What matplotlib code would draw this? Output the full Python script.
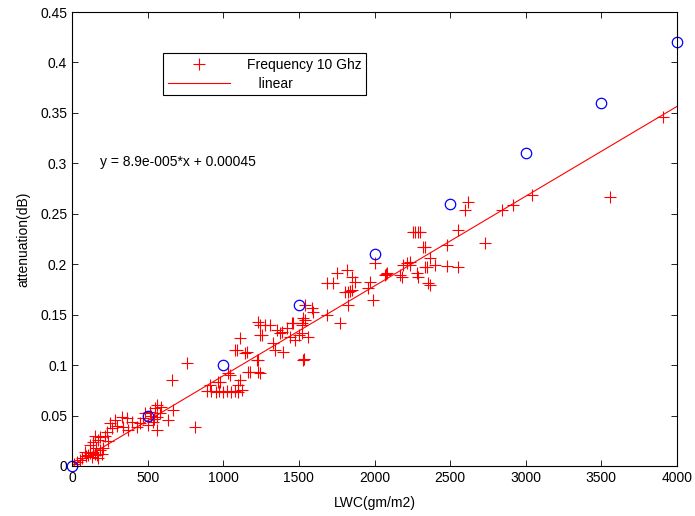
import numpy as np
import matplotlib
matplotlib.use("Agg")
import matplotlib.pyplot as plt
from matplotlib.ticker import FormatStrFormatter

plt.rcParams['font.family'] = ['Liberation Sans', 'DejaVu Sans']

# measured points, frequency 10 GHz
lwc = [0, 15, 30, 50, 66, 86, 106, 119, 132, 139, 139, 150, 165, 172, 185, 185, 205, 160, 120, 175,
       200, 95, 150, 230, 251, 264, 284, 331, 337, 364, 370, 397, 430, 450, 483, 502, 516, 536, 549, 562,
       562, 562, 582, 635, 668, 661, 760, 813, 470, 520, 540, 590, 300, 240, 220,
       893, 920, 950, 975, 1000, 1025, 1050, 1075, 1100, 1124, 912, 965, 979, 1031, 1045, 1097, 1111, 1164,
       1177, 1230, 1243, 1223, 1230, 1144, 1078, 1157, 1091, 1111, 1243, 1256, 1243, 1230, 1276, 1309,
       1329, 1342, 1355, 1375, 1388, 1395, 1421, 1455, 1461, 1474, 1521, 1527, 1535, 1521, 1540, 1521,
       1527, 1540, 1587, 1593, 1560, 1500, 1440,
       1686, 1772, 1686, 1726, 1752, 1805, 1818, 1825, 1825, 1840, 1851, 1851, 1871, 1957, 1970, 1990,
       2003, 2069, 2083, 2075, 2169, 2182, 2188, 2215, 2235, 2235, 2255, 2268, 2288, 2301, 2281, 2288,
       2321, 2334, 2334, 2347, 2354, 2367, 2367, 2400, 2479, 2479, 2552, 2552, 2598, 2618, 2731, 2843,
       2916, 3041, 3557, 3907]
atten = [0.0, 0.002, 0.004, 0.006, 0.008, 0.014, 0.011, 0.021, 0.009, 0.024, 0.014, 0.012, 0.011, 0.026,
         0.016, 0.029, 0.018, 0.018, 0.013, 0.008, 0.012, 0.010, 0.030, 0.034, 0.043, 0.038, 0.046, 0.049,
         0.039, 0.048, 0.036, 0.044, 0.039, 0.043, 0.053, 0.041, 0.054, 0.044, 0.057, 0.049, 0.036, 0.060,
         0.053, 0.046, 0.056, 0.085, 0.102, 0.039, 0.048, 0.050, 0.047, 0.058, 0.040, 0.025, 0.030,
         0.074, 0.074, 0.073, 0.074, 0.073, 0.074, 0.073, 0.074, 0.073, 0.075, 0.080, 0.083, 0.083, 0.092,
         0.090, 0.080, 0.085, 0.093, 0.093, 0.093, 0.092, 0.105, 0.105, 0.112, 0.115, 0.113, 0.115, 0.127,
         0.130, 0.130, 0.140, 0.143, 0.140, 0.140, 0.122, 0.115, 0.135, 0.132, 0.133, 0.113, 0.137, 0.142,
         0.142, 0.125, 0.132, 0.105, 0.106, 0.140, 0.145, 0.142, 0.147, 0.160, 0.157, 0.153, 0.128, 0.130,
         0.128,
         0.150, 0.142, 0.181, 0.181, 0.191, 0.172, 0.194, 0.172, 0.160, 0.173, 0.174, 0.187, 0.182, 0.176,
         0.182, 0.165, 0.201, 0.189, 0.191, 0.190, 0.189, 0.187, 0.199, 0.201, 0.202, 0.199, 0.232, 0.232,
         0.232, 0.232, 0.191, 0.187, 0.217, 0.217, 0.197, 0.197, 0.181, 0.206, 0.179, 0.199, 0.198, 0.219,
         0.197, 0.234, 0.254, 0.262, 0.221, 0.254, 0.259, 0.269, 0.267, 0.346]

# reference (theory) points
ref_lwc = [0, 500, 1000, 1500, 2000, 2500, 3000, 3500, 4000]
ref_atten = [0.0, 0.05, 0.10, 0.16, 0.21, 0.26, 0.31, 0.36, 0.42]

# linear fit shown on the chart
slope = 8.9e-5
intercept = 0.00045
fit_x = np.array([0, 4000])

fig = plt.figure(figsize=(6.95, 5.16), dpi=100)
ax = fig.add_axes([0.1036, 0.0969, 0.8705, 0.8798])

ax.plot(lwc, atten, '+', color='red', markersize=8, markeredgewidth=0.8, label='Frequency 10 Ghz')
ax.plot(fit_x, slope * fit_x + intercept, '-', color='red', linewidth=0.8, label='   linear')
ax.plot(ref_lwc, ref_atten, 'o', markerfacecolor='none', markeredgecolor='blue',
        markersize=7.5, markeredgewidth=0.9, clip_on=False)

ax.set_xlim(0, 4000)
ax.set_ylim(0, 0.45)
ax.set_xticks(np.arange(0, 4001, 500))
ax.set_yticks(np.arange(0, 0.451, 0.05))
ax.yaxis.set_major_formatter(FormatStrFormatter('%g'))
ax.tick_params(direction='in', top=True, right=True, labelsize=10, length=4, width=0.6)
for s in ax.spines.values():
    s.set_linewidth(0.8)

ax.set_xlabel('LWC(gm/m2)', fontsize=10, labelpad=8)
ax.set_ylabel('attenuation(dB)', fontsize=10, labelpad=7)

ax.text(185, 0.301, 'y = 8.9e-005*x + 0.00045', fontsize=10, va='center', ha='left')

leg = ax.legend(loc='upper left', bbox_to_anchor=(0.150, 0.910), fancybox=False,
                edgecolor='black', framealpha=1, borderaxespad=0, fontsize=10,
                handlelength=4.5, handletextpad=1.2, borderpad=0.35, labelspacing=0.35)
leg.get_frame().set_linewidth(0.8)

fig.savefig('out.png', dpi=100)
